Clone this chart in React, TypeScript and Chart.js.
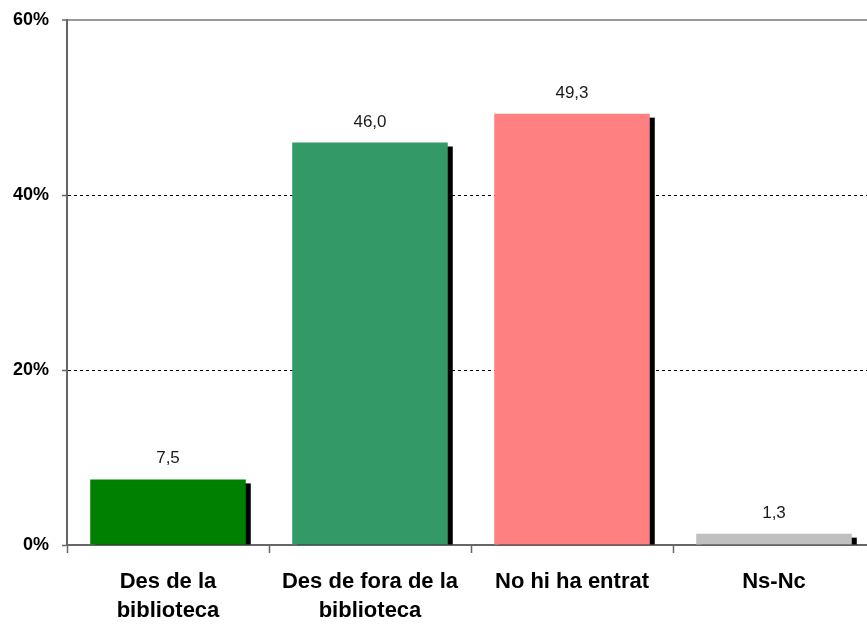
import React, { useEffect, useRef } from "react";
import { Chart, registerables } from "chart.js";

Chart.register(...registerables);

const categories: string[][] = [
  ["Des de la", "biblioteca"],
  ["Des de fora de la", "biblioteca"],
  ["No hi ha entrat"],
  ["Ns-Nc"],
];
const values: number[] = [7.5, 46.0, 49.3, 1.3];
const barColors: string[] = ["#008000", "#339966", "#FF8080", "#C0C0C0"];
const yTicks: number[] = [0, 20, 40, 60];

const FONT = '"Liberation Sans", Arial, sans-serif';

const shadowPlugin = {
  id: "barShadow",
  beforeDatasetsDraw(chart: any) {
    const ctx = chart.ctx;
    const meta = chart.getDatasetMeta(0);
    ctx.save();
    ctx.fillStyle = "#000000";
    meta.data.forEach((bar: any) => {
      const p = bar.getProps(["x", "y", "base", "width"], true);
      const left = p.x - p.width / 2 + 5;
      const top = p.y + 4;
      const h = p.base - top;
      if (h > 0) ctx.fillRect(left, top, p.width, h);
    });
    ctx.restore();
  },
};

const valueLabelPlugin = {
  id: "valueLabels",
  afterDatasetsDraw(chart: any) {
    const ctx = chart.ctx;
    const meta = chart.getDatasetMeta(0);
    const data = chart.data.datasets[0].data as number[];
    ctx.save();
    ctx.font = `17px ${FONT}`;
    ctx.fillStyle = "#1a1a1a";
    ctx.textAlign = "center";
    ctx.textBaseline = "alphabetic";
    meta.data.forEach((bar: any, i: number) => {
      const p = bar.getProps(["x", "y"], true);
      ctx.fillText(data[i].toFixed(1).replace(".", ","), p.x, p.y - 16);
    });
    ctx.restore();
  },
};

export default function App() {
  const ref = useRef<HTMLCanvasElement | null>(null);

  useEffect(() => {
    if (!ref.current) return;
    const chart = new Chart(ref.current, {
      type: "bar",
      data: {
        labels: categories,
        datasets: [
          {
            data: values,
            backgroundColor: barColors,
            borderWidth: 0,
            barPercentage: 0.77,
            categoryPercentage: 1,
          },
        ],
      },
      options: {
        responsive: false,
        animation: false,
        devicePixelRatio: 1,
        layout: { padding: { top: 20, left: 0, right: 0, bottom: 0 } },
        plugins: {
          legend: { display: false },
          tooltip: { enabled: false },
        },
        scales: {
          x: {
            offset: true,
            grid: {
              offset: true,
              drawOnChartArea: false,
              drawTicks: true,
              tickLength: 8,
              tickColor: "#666666",
              tickWidth: 1.5,
            },
            border: { display: true, color: "#666666", width: 2 },
            ticks: {
              color: "#000000",
              font: { family: FONT, size: 22, weight: "bold", lineHeight: 1.3 },
              maxRotation: 0,
              minRotation: 0,
              autoSkip: false,
              padding: 15,
            },
            afterFit(scale: any) {
              scale.height = 80;
            },
          },
          y: {
            min: 0,
            max: 60,
            afterBuildTicks(scale: any) {
              scale.ticks = yTicks.map((v) => ({ value: v }));
            },
            grid: {
              color: (c: any) =>
                c.tick && c.tick.value === 60
                  ? "#999999"
                  : c.tick && c.tick.value === 0
                  ? "rgba(0,0,0,0)"
                  : "#000000",
              lineWidth: (c: any) => (c.tick && c.tick.value === 60 ? 2 : 1),
              tickColor: "#666666",
              tickLength: 5,
              tickWidth: 1.5,
            },
            border: {
              display: true,
              color: "#666666",
              width: 2,
              dash: (c: any) =>
                c.tick && (c.tick.value === 20 || c.tick.value === 40) ? [3, 3] : [],
            },
            ticks: {
              color: "#000000",
              font: { family: FONT, size: 18, weight: "bold" },
              padding: 13,
              callback: (v: any) => `${v}%`,
            },
            afterFit(scale: any) {
              scale.width = 67;
              scale.paddingTop = 0;
              scale.paddingBottom = 0;
            },
          },
        },
      },
      plugins: [shadowPlugin, valueLabelPlugin],
    });
    return () => chart.destroy();
  }, []);

  return (
    <div
      style={{
        position: "absolute",
        left: 0,
        top: 0,
        width: 867,
        height: 625,
        overflow: "hidden",
        background: "#ffffff",
      }}
    >
      <canvas ref={ref} width={875} height={625} style={{ display: "block" }} />
    </div>
  );
}
